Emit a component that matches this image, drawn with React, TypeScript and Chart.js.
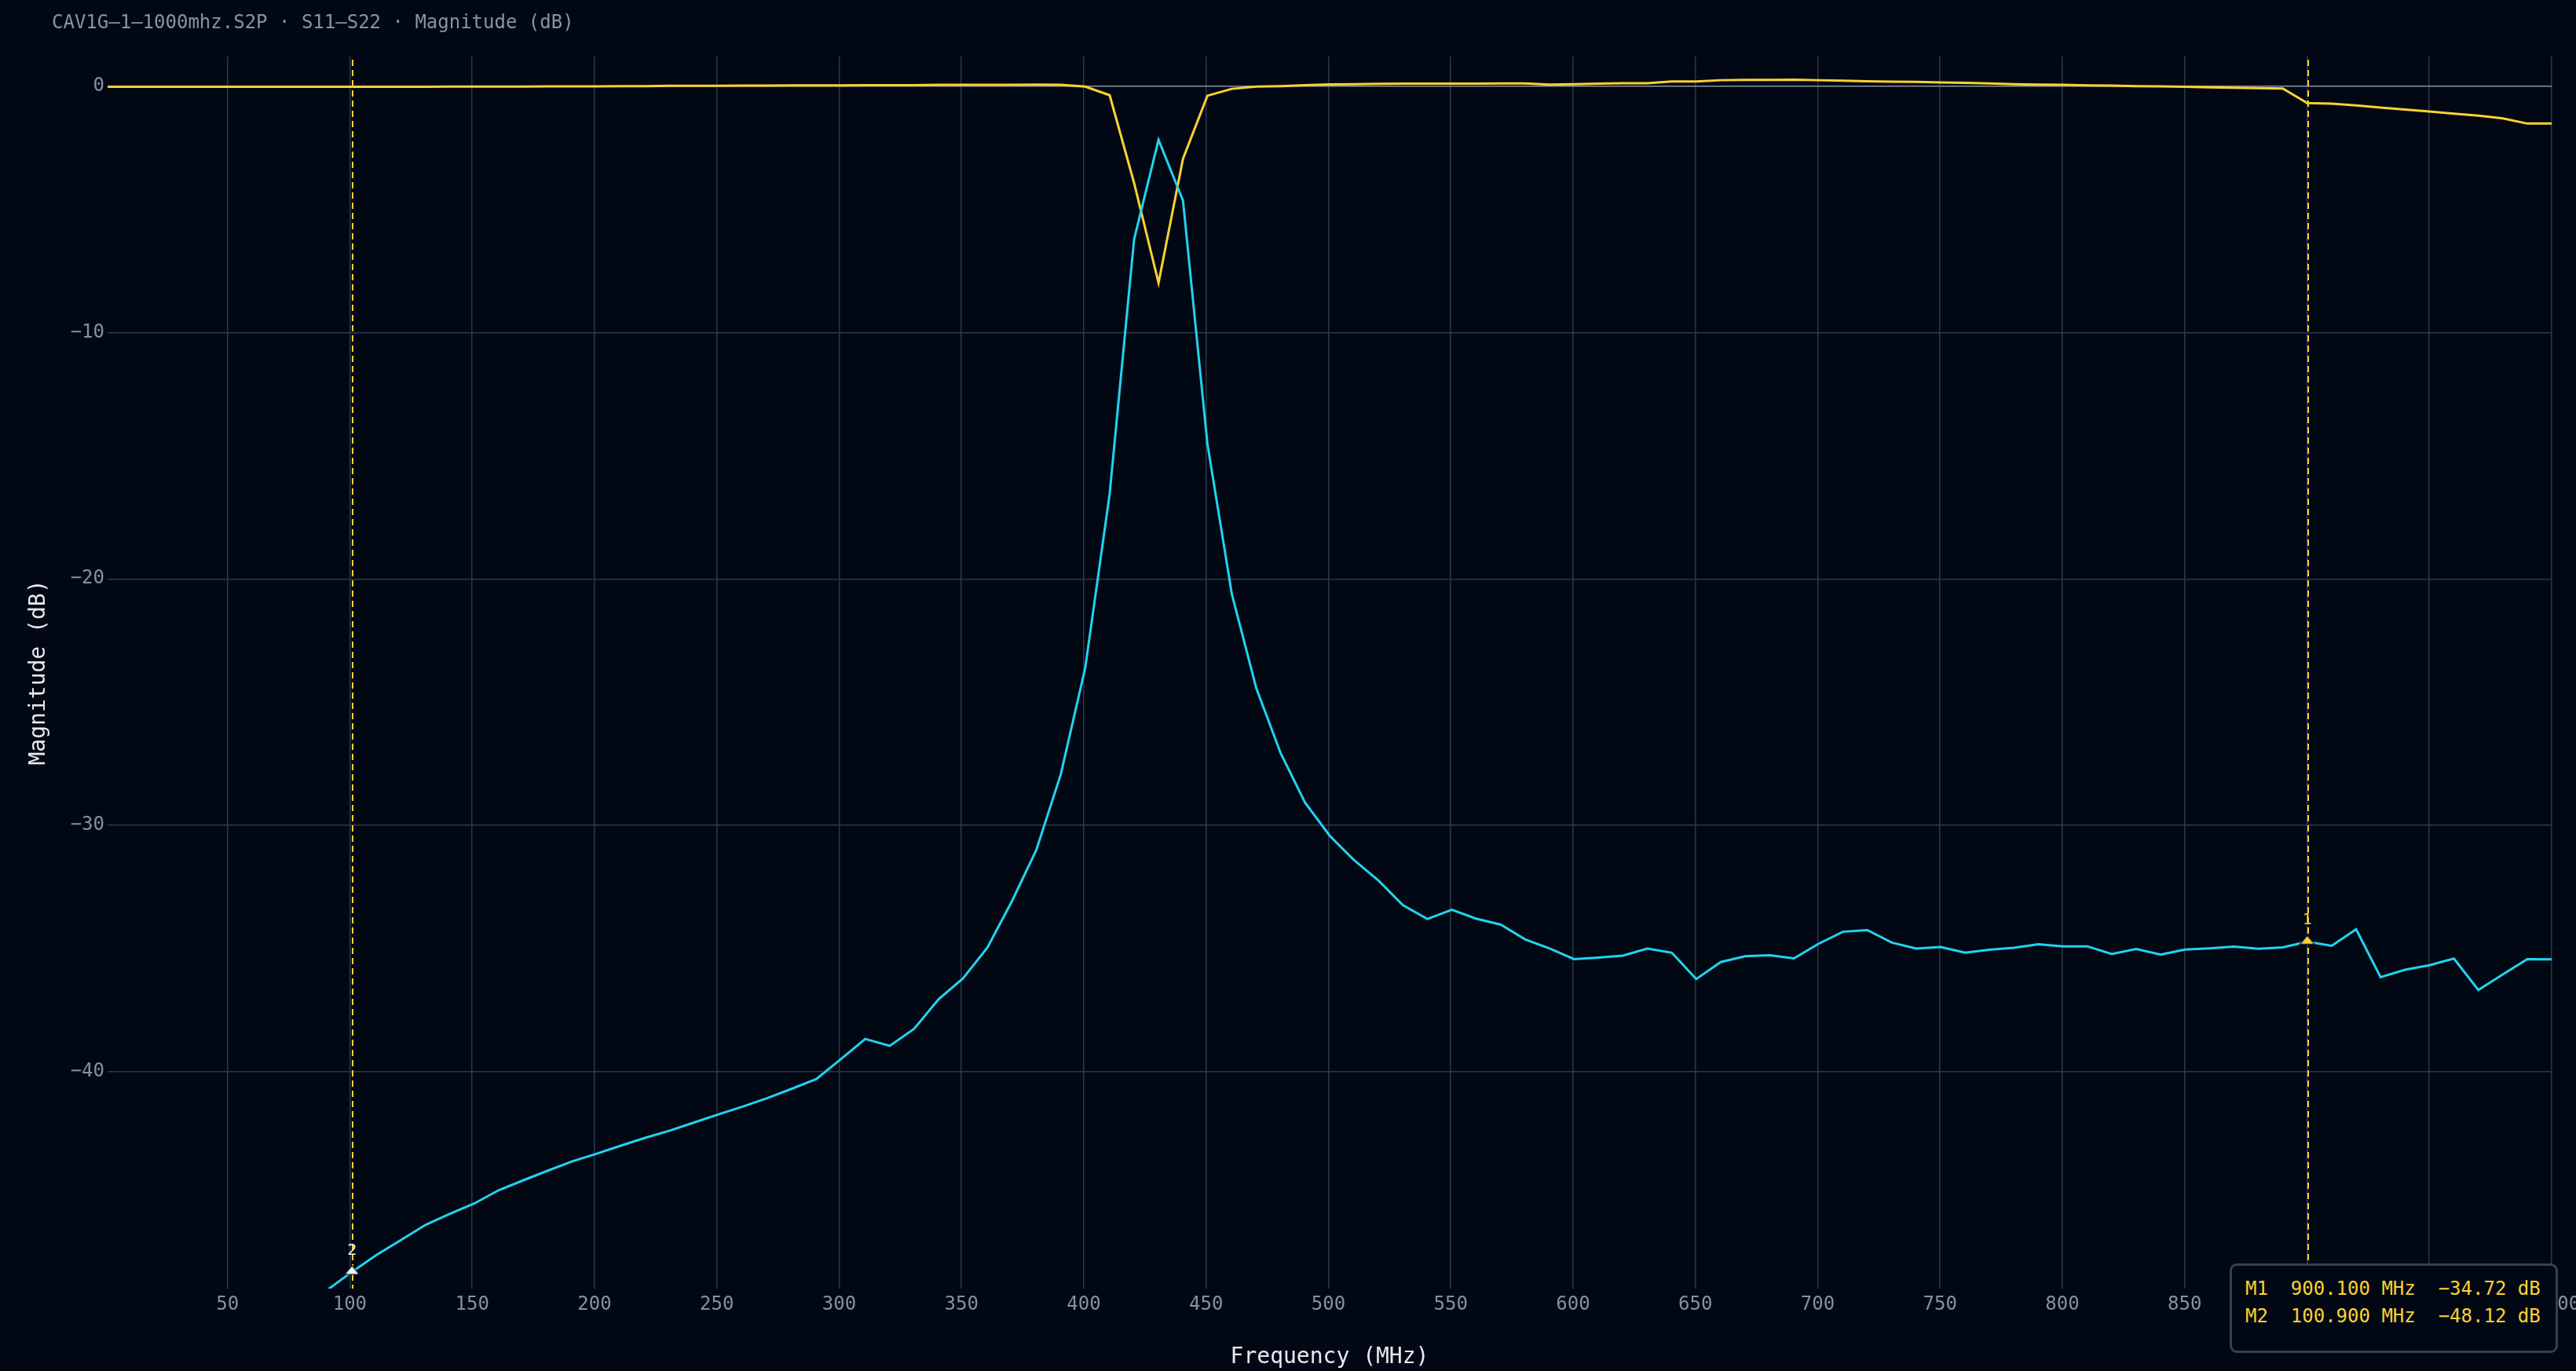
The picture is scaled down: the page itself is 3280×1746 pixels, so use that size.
import { useEffect, useRef } from 'react';
import { Chart, registerables } from 'chart.js';

Chart.register(...registerables);

// sweep: 101 points, 1 .. 1000 MHz
const freqs = [
  1, 10.99, 20.98, 30.97, 40.96, 50.95, 60.94, 70.93, 80.92, 90.91,
  100.9, 110.89, 120.88, 130.87, 140.86, 150.85, 160.84, 170.83, 180.82, 190.81,
  200.8, 210.79, 220.78, 230.77, 240.76, 250.75, 260.74, 270.73, 280.72, 290.71,
  300.7, 310.69, 320.68, 330.67, 340.66, 350.65, 360.64, 370.63, 380.62, 390.61,
  400.6, 410.59, 420.58, 430.57, 440.56, 450.55, 460.54, 470.53, 480.52, 490.51,
  500.5, 510.49, 520.48, 530.47, 540.46, 550.45, 560.44, 570.43, 580.42, 590.41,
  600.4, 610.39, 620.38, 630.37, 640.36, 650.35, 660.34, 670.33, 680.32, 690.31,
  700.3, 710.29, 720.28, 730.27, 740.26, 750.25, 760.24, 770.23, 780.22, 790.21,
  800.2, 810.19, 820.18, 830.17, 840.16, 850.15, 860.14, 870.13, 880.12, 890.11,
  900.1, 910.09, 920.08, 930.07, 940.06, 950.05, 960.04, 970.03, 980.02, 990.01,
  1000,
];

// yellow trace (dB)
const s11 = [
  -0.03, -0.03, -0.03, -0.03, -0.03, -0.03, -0.03, -0.03, -0.03, -0.03,
  -0.03, -0.03, -0.03, -0.03, -0.02, -0.02, -0.02, -0.02, -0.01, -0.01,
  -0.01, 0, 0, 0.01, 0.01, 0.01, 0.02, 0.02, 0.03, 0.03,
  0.03, 0.04, 0.04, 0.04, 0.05, 0.05, 0.05, 0.05, 0.06, 0.05,
  -0.02, -0.37, -3.93, -7.99, -2.95, -0.39, -0.11, -0.02, 0, 0.04,
  0.07, 0.08, 0.09, 0.1, 0.1, 0.1, 0.1, 0.11, 0.11, 0.06,
  0.08, 0.1, 0.12, 0.12, 0.19, 0.19, 0.24, 0.25, 0.25, 0.26,
  0.24, 0.22, 0.2, 0.18, 0.17, 0.15, 0.13, 0.11, 0.08, 0.06,
  0.05, 0.03, 0.02, 0, -0.01, -0.03, -0.05, -0.07, -0.08, -0.1,
  -0.69, -0.71, -0.78, -0.87, -0.95, -1.03, -1.12, -1.2, -1.31, -1.52,
  -1.52,
];

// cyan trace (dB)
const s22 = [
  -88.0, -65.5, -60.0, -56.8, -54.6, -53.0, -51.7, -50.6, -49.7, -48.85,
  -48.12, -47.44, -46.83, -46.22, -45.77, -45.35, -44.81, -44.41, -44.02, -43.64,
  -43.33, -43.0, -42.68, -42.39, -42.06, -41.73, -41.41, -41.07, -40.69, -40.3,
  -39.49, -38.67, -38.95, -38.26, -37.06, -36.21, -34.96, -33.08, -31.0, -27.93,
  -23.62, -16.55, -6.22, -2.18, -4.64, -14.52, -20.62, -24.44, -27.08, -29.09,
  -30.42, -31.41, -32.24, -33.24, -33.8, -33.43, -33.79, -34.03, -34.63, -35.0,
  -35.43, -35.37, -35.29, -35.0, -35.17, -36.24, -35.55, -35.31, -35.27, -35.4,
  -34.81, -34.32, -34.25, -34.76, -35.0, -34.94, -35.17, -35.05, -34.97, -34.83,
  -34.91, -34.91, -35.22, -35.02, -35.25, -35.04, -34.99, -34.92, -35.01, -34.95,
  -34.72, -34.89, -34.22, -36.16, -35.86, -35.68, -35.41, -36.68, -36.05, -35.43,
  -35.44,
];

const markerFreqs = [900.1, 100.9];
const markerDb = [-34.72, -48.12];
const markerNames = ['1', '2'];

const freqTicks = [50, 100, 150, 200, 250, 300, 350, 400, 450, 500, 550, 600, 650, 700, 750, 800, 850, 900, 950, 1000];
const dbTicks = [-40, -30, -20, -10, 0];

const BG = '#010814';
const YELLOW = '#fad232';
const CYAN = '#22d3ee';
const WHITE = '#f4f6f8';
const GRID = '#2c394b';
const ZERO = '#8593a4';
const TICK = '#8391a3';
const FONT = '"DejaVu Sans Mono", monospace';
const markerColors = [YELLOW, WHITE];

const minus = (s: string) => s.replace('-', '\u2212');

// triangle marker glyph, offset upward so it sits on the trace like the original
function triangleImage(color: string) {
  const c = document.createElement('canvas');
  c.width = 22;
  c.height = 20;
  const g = c.getContext('2d')!;
  g.beginPath();
  g.moveTo(11, 2);
  g.lineTo(1.7, 13.3);
  g.lineTo(20.3, 13.3);
  g.closePath();
  g.fillStyle = color;
  g.fill();
  g.lineWidth = 1.2;
  g.strokeStyle = '#0b1422';
  g.stroke();
  return c;
}

const markerPlugin = {
  id: 'markerLines',
  beforeDatasetsDraw(chart: any) {
    const { ctx, chartArea, scales } = chart;
    ctx.save();
    ctx.strokeStyle = YELLOW;
    ctx.lineWidth = 2;
    ctx.setLineDash([8, 5]);
    markerFreqs.forEach((f) => {
      const px = Math.round(scales.x.getPixelForValue(f)) + 1;
      ctx.beginPath();
      ctx.moveTo(px, chartArea.top + 4);
      ctx.lineTo(px, chartArea.bottom);
      ctx.stroke();
    });
    ctx.restore();
  },
  afterDatasetsDraw(chart: any) {
    const { ctx, scales } = chart;
    ctx.save();
    ctx.font = `20px ${FONT}`;
    ctx.textAlign = 'center';
    ctx.textBaseline = 'middle';
    markerFreqs.forEach((f, i) => {
      ctx.fillStyle = markerColors[i];
      ctx.fillText(markerNames[i], scales.x.getPixelForValue(f), scales.y.getPixelForValue(markerDb[i]) - 27);
    });
    ctx.restore();
  },
};

function fmtMarker(i: number) {
  return `M${i + 1}  ${markerFreqs[i].toFixed(3)} MHz  ${minus(markerDb[i].toFixed(2))} dB`;
}

export default function App() {
  const canvasRef = useRef<HTMLCanvasElement | null>(null);

  useEffect(() => {
    document.body.style.margin = '0';
    document.body.style.background = BG;
    if (!canvasRef.current) return;

    const chart = new Chart(canvasRef.current, {
      type: 'line',
      data: {
        datasets: [
          {
            label: 'markers',
            data: markerFreqs.map((f, i) => ({ x: f, y: markerDb[i] })),
            showLine: false,
            pointStyle: markerColors.map(triangleImage) as any,
            pointRadius: 10,
            order: 0,
          },
          {
            label: 'S22',
            data: freqs.map((f, i) => ({ x: f, y: s22[i] })),
            borderColor: CYAN,
            borderWidth: 3,
            pointRadius: 0,
            tension: 0,
            order: 1,
          },
          {
            label: 'S11',
            data: freqs.map((f, i) => ({ x: f, y: s11[i] })),
            borderColor: YELLOW,
            borderWidth: 3,
            pointRadius: 0,
            tension: 0,
            order: 2,
          },
        ],
      },
      options: {
        animation: false,
        responsive: true,
        maintainAspectRatio: false,
        layout: { padding: { top: 72, right: 31, bottom: 0, left: 0 } },
        plugins: {
          legend: { display: false },
          tooltip: { enabled: false },
        },
        scales: {
          x: {
            type: 'linear',
            min: 1,
            max: 1000,
            afterBuildTicks: (scale: any) => {
              scale.ticks = freqTicks.map((v) => ({ value: v }));
            },
            afterFit: (scale: any) => {
              scale.height = 105;
              scale.paddingLeft = 0;
              scale.paddingRight = 0;
            },
            border: { display: false },
            grid: { color: GRID, lineWidth: 1.5, drawTicks: false },
            ticks: {
              color: TICK,
              font: { family: FONT, size: 24 },
              padding: 6,
              maxRotation: 0,
              autoSkip: false,
            },
            title: {
              display: true,
              text: 'Frequency (MHz)',
              color: '#e6eaf0',
              font: { family: FONT, size: 28 },
              padding: { top: 0, bottom: 0 },
            },
          },
          y: {
            type: 'linear',
            min: -48.8,
            max: 1.2,
            afterBuildTicks: (scale: any) => {
              scale.ticks = dbTicks.map((v) => ({ value: v }));
            },
            afterFit: (scale: any) => {
              scale.width = 137;
              scale.paddingTop = 0;
              scale.paddingBottom = 0;
            },
            border: { display: false },
            grid: {
              color: (c: any) => (c.tick && c.tick.value === 0 ? ZERO : GRID),
              lineWidth: 1.5,
              drawTicks: false,
            },
            ticks: {
              color: TICK,
              font: { family: FONT, size: 24 },
              padding: 4,
              callback: (v: any) => minus(String(v)),
            },
            title: {
              display: true,
              text: 'Magnitude (dB)',
              color: '#e6eaf0',
              font: { family: FONT, size: 28 },
              padding: { top: 33, bottom: 0 },
            },
          },
        },
      },
      plugins: [markerPlugin],
    });

    return () => chart.destroy();
  }, []);

  return (
    <div style={{ position: 'relative', width: '100vw', height: '100vh', background: BG, overflow: 'hidden' }}>
      <canvas ref={canvasRef}></canvas>
      <div
        style={{
          position: 'absolute',
          top: 16,
          left: 66,
          fontFamily: FONT,
          fontSize: 24,
          lineHeight: '24px',
          color: '#8893a3',
          whiteSpace: 'pre',
        }}
      >
        CAV1G–1–1000mhz.S2P · S11–S22 · Magnitude (dB)
      </div>
      <div
        style={{
          position: 'absolute',
          right: 23,
          bottom: 23,
          width: 418,
          height: 114,
          boxSizing: 'border-box',
          border: '3px solid #334155',
          borderRadius: 9,
          background: BG,
          padding: '12px 0 0 17px',
          fontFamily: FONT,
          fontSize: 24,
          lineHeight: '35px',
          color: YELLOW,
          whiteSpace: 'pre',
        }}
      >
        <div>{fmtMarker(0)}</div>
        <div>{fmtMarker(1)}</div>
      </div>
    </div>
  );
}
